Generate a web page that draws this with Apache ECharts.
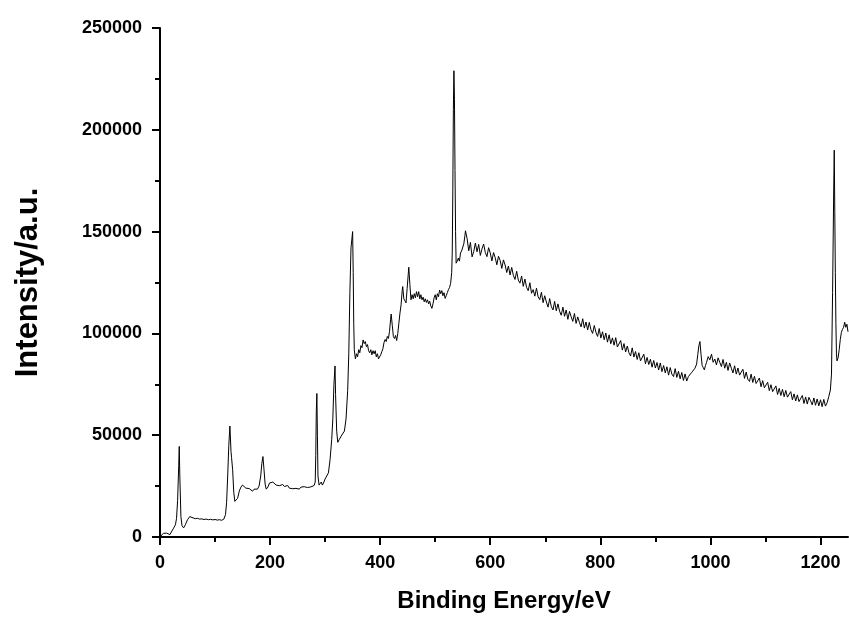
<!DOCTYPE html>
<html>
<head>
<meta charset="utf-8">
<script src="https://cdn.jsdelivr.net/npm/echarts@6/dist/echarts.min.js"></script>
<style>
html,body{margin:0;padding:0;background:#fff;}
#chart{width:849px;height:619px;}
</style>
</head>
<body>
<div id="chart"></div>
<script>
// Binding energy (eV)
const energy = [
0,3,6,9,12,15,18,21,24,26,28,30,32,34,35,36,38,40,43,46,50,54,57,60,64,68,72,76,80,84,88,92,96,100,104,108,112,116,119,
121,123,125,127,129,130,132,134,136,138,141,144,147,150,153,156,159,162,165,168,171,174,177,180,183,185,187,189,191,193,196,199,
202,205,208,211,214,217,220,223,226,229,232,235,238,241,244,247,250,253,256,259,262,265,268,271,274,277,280,282,283,284,285,286,287,289,
291,293,295,297,300,303,306,309,312,314,316,318,319,321,323,326,329,332,335,338,341,343,345,347,
350,351,352,353,355,357,359,361,363,365,367,369,371,373,375,377,379,381,383,385,387,389,391,393,395,397,399,401,403,405,407,409,411,413,415,417,419,420,422,424,426,428,430,432,434,436,438,440,441,443,445,447,449,451,452,454,456,458,460,462,464,466,468,470,472,474,476,478,480,482,484,486,488,490,492,494,496,498,500,502,504,506,508,510,512,514,516,518,520,522,524,526,528,530,531,532,533,534,535,536,537,538,540,542,544,546,548,550,552,554,555,
558,561,564,567,570,573,576,579,582,585,588,591,594,597,600,603,606,609,612,615,618,621,624,627,630,633,636,639,642,645,648,651,654,657,660,663,666,669,672,675,678,681,684,687,690,693,696,699,702,705,708,711,714,717,720,723,726,729,732,735,738,741,744,747,750,753,756,759,762,765,768,771,774,777,780,783,786,789,792,795,798,
801,804,807,810,813,816,819,822,825,828,831,834,837,840,843,846,849,852,855,858,861,864,867,870,873,876,879,882,885,888,891,894,897,900,903,906,909,912,915,918,921,924,927,930,933,936,939,942,945,948,951,954,957,960,963,966,969,972,975,977,979,981,983,985,987,989,991,993,996,999,
1002,1005,1008,1011,1014,1017,1020,1023,1026,1029,1032,1035,1038,1041,1044,1047,1050,1053,1056,1059,1062,1065,1068,1071,1074,1077,1080,1083,1086,1089,1092,1095,1098,1101,1104,1107,1110,1113,1116,1119,1122,1125,1128,1131,1134,1137,1140,1143,1146,1149,1152,1155,1158,1161,1164,1167,1170,1173,1176,1179,1182,1185,1188,1191,1194,1197,1200,1203,1206,1209,1212,1215,1218,1220,1222,1224,1225,1226,1227,1228,1229,1230,1232,1234,1236,1238,1240,1242,1244,1246,1248,1250
];
// Intensity (a.u.)
const intensity = [
0,800,1800,2000,1900,1500,1200,1400,4000,3500,6000,9000,18000,35000,44500,30000,10000,5500,4500,6000,8500,10000,10200,9400,9000,9200,8800,8900,8600,8800,8500,8700,8400,8600,8300,8500,8200,8800,11000,
17000,30000,45000,54500,42000,39000,33000,22000,17500,17000,19000,22500,24500,25500,25000,24000,23200,23800,23000,22500,23500,22800,23500,25000,30000,36000,39500,33000,26000,23500,24500,26500,
26000,27000,26200,25500,26300,25200,24500,25800,24800,24200,25300,24000,24800,23700,24600,23900,24400,23500,24500,23600,24700,23800,24300,23500,24600,24000,25300,27000,40000,62000,70500,50000,30000,25500,
25000,27000,25500,26500,28500,30000,31500,38000,48000,58000,75000,84000,70000,52000,46500,48000,49500,50000,52000,58000,72000,90000,120000,142000,
150000,130000,105000,92000,87500,90000,88500,92000,90500,94000,93000,96800,95000,96000,93500,94500,91500,90500,92000,89500,91500,90000,91500,88500,90000,87500,88000,89500,91000,92500,95500,97000,96000,98500,97500,101000,107000,109500,104000,98500,97500,99000,96500,100000,105000,110000,114000,121000,123000,117000,116000,115000,122000,129000,132500,124000,116500,119000,117000,119500,117500,120500,118000,120500,117000,119000,116500,117800,115500,117000,115200,116500,114500,115800,113500,112300,114500,117500,119000,116500,119500,118000,121300,119500,121000,118500,120000,117200,118500,120000,121500,122500,124500,130000,140000,170000,210000,229000,215000,180000,150000,134500,135500,137000,135500,139500,140500,141000,144000,148000,150400,
146500,140600,144700,137600,140200,144400,140100,143700,138300,141500,143900,139800,137700,142100,139500,135600,139700,137200,133700,137900,135800,131900,136100,133600,129900,133100,128700,132400,128500,126500,130500,126200,124700,128200,123100,126700,122600,121000,124900,119700,121500,118300,122200,118000,116600,120200,115100,118500,115400,112900,117100,113100,111500,115700,111100,114500,110900,108900,112900,108400,111500,106900,110800,108200,105900,109800,104900,108100,105400,103200,107200,102600,105600,101700,105400,101800,100000,103900,100600,98500,102400,
97700,100800,96900,100200,95700,99300,94900,97800,94200,97900,93300,92600,96500,91800,95000,90900,93800,90500,88900,92900,88400,91100,87200,90500,86500,85900,89800,85100,88200,84700,87300,83400,86700,83000,85700,82000,85500,81200,84200,80600,83600,79500,83200,80000,78800,82700,78400,81400,77700,80800,76900,80100,76600,78800,79400,80800,80600,82900,85000,89500,93800,96000,89500,84300,83200,82100,84200,85800,88600,87000,
89800,85800,87400,84500,88000,85800,83700,87200,82900,85800,81800,85500,82900,80600,84100,80000,83000,79500,78700,82400,77900,81000,77500,76400,80000,75900,78900,75400,74500,78100,73800,76800,73300,72500,76000,71900,74800,71400,70600,74200,70000,73000,69500,72500,68900,72000,68700,67900,71400,67400,70300,66800,69800,66500,65900,69500,65600,68800,65300,68600,66900,64900,68300,64700,67800,64400,67400,64000,67600,64300,65900,68900,72200,80000,120000,170000,190000,160000,130000,105000,90000,86500,88000,92000,97000,100500,102000,103000,105500,103000,104500,100800
];
const xMajorTicks = [0,200,400,600,800,1000,1200];
const xMinorTicks = [100,300,500,700,900,1100];
const xAxisTitle = 'Binding Energy/eV';
const yAxisTitle = 'Intensity/a.u.';

const font = "'Liberation Sans', Arial, sans-serif";
const points = energy.map((e, i) => [e, intensity[i]]);
const plain = v => String(v);

const chart = echarts.init(document.getElementById('chart'), null, {renderer: 'canvas'});
chart.setOption({
  animation: false,
  backgroundColor: '#fff',
  grid: {left: 160, right: 1, top: 28, bottom: 82, containLabel: false},
  xAxis: [{
    type: 'value', min: 0, max: 1250,
    name: xAxisTitle, nameLocation: 'middle', nameGap: 52,
    nameTextStyle: {fontFamily: font, fontWeight: 'bold', fontSize: 24, color: '#000'},
    axisLine: {show: true, onZero: false, lineStyle: {color: '#000', width: 2}},
    axisTick: {show: true, inside: false, length: 8, lineStyle: {color: '#000', width: 2}, customValues: xMajorTicks},
    axisLabel: {show: true, margin: 17, fontFamily: font, fontWeight: 'bold', fontSize: 18, color: '#000', customValues: xMajorTicks, formatter: plain},
    splitLine: {show: false}
  }, {
    type: 'value', min: 0, max: 1250, position: 'bottom',
    axisLine: {show: false},
    axisTick: {show: true, inside: false, length: 5, lineStyle: {color: '#000', width: 2}, customValues: xMinorTicks},
    axisLabel: {show: false},
    splitLine: {show: false}
  }],
  yAxis: {
    type: 'value', min: 0, max: 250000, interval: 50000,
    name: yAxisTitle, nameLocation: 'middle', nameGap: 116,
    nameTextStyle: {fontFamily: font, fontWeight: 'bold', fontSize: 31, color: '#000'},
    axisLine: {show: true, onZero: false, lineStyle: {color: '#000', width: 2}},
    axisTick: {show: true, inside: false, length: 8, lineStyle: {color: '#000', width: 2}},
    minorTick: {show: true, splitNumber: 2, length: 5, lineStyle: {color: '#000', width: 2}},
    axisLabel: {show: true, margin: 18, fontFamily: font, fontWeight: 'bold', fontSize: 18, color: '#000', formatter: plain},
    splitLine: {show: false}
  },
  series: [{
    type: 'line', xAxisIndex: 0, data: points, showSymbol: false, symbol: 'none',
    lineStyle: {color: '#000', width: 1}, clip: false
  }]
});
</script>
</body>
</html>
